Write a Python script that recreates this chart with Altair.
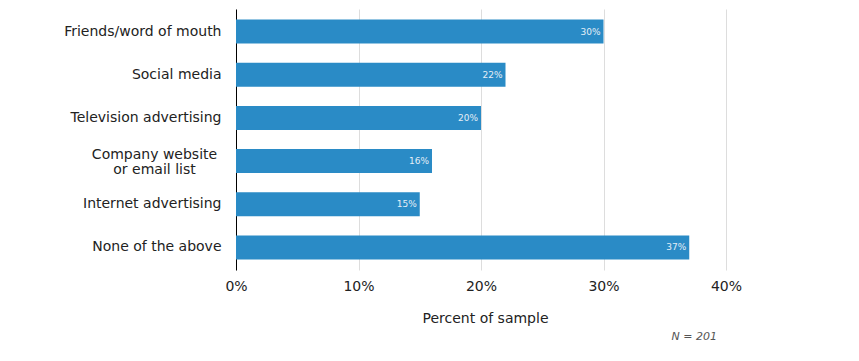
import altair as alt
import pandas as pd

categories = [
    "Friends/word of mouth",
    "Social media",
    "Television advertising",
    "Company website or email list",
    "Internet advertising",
    "None of the above",
]
values = [30, 22, 20, 16, 15, 37]
x_ticks = [0, 10, 20, 30, 40]

df = pd.DataFrame({"category": categories, "value": values})
df["label"] = df["value"].astype(str) + "%"

FONT = "DejaVu Sans"
TWO_LINE = "datum.value == 'Company website or email list'"

y_enc = alt.Y(
    "category:N",
    sort=categories,
    scale=alt.Scale(paddingInner=0.444, paddingOuter=0.243),
    axis=alt.Axis(
        title=None,
        ticks=False,
        tickSize=0,
        grid=False,
        domain=True,
        domainColor="#000000",
        domainWidth=1,
        labelFont=FONT,
        labelFontSize=14,
        labelColor="#222222",
        labelLineHeight=14.5,
        labelAlign={"condition": {"test": TWO_LINE, "value": "center"}, "value": "right"},
        labelPadding={"condition": {"test": TWO_LINE, "value": 82}, "value": 15},
        labelOffset={"condition": {"test": TWO_LINE, "value": -6}, "value": 0},
        labelExpr=TWO_LINE + " ? ['Company website ', 'or email list'] : datum.label",
    ),
)

x_enc = alt.X(
    "value:Q",
    scale=alt.Scale(domain=[0, 40], nice=False),
    axis=alt.Axis(
        title="Percent of sample",
        values=x_ticks,
        labelExpr="datum.value + '%'",
        labelFlush=False,
        ticks=False,
        domain=False,
        grid=True,
        gridColor="#dddddd",
        labelFont=FONT,
        labelFontSize=14,
        labelColor="#222222",
        labelPadding=9,
        titleFont=FONT,
        titleFontSize=14,
        titleFontWeight="normal",
        titleColor="#222222",
        titlePadding=18,
        titleX=249,
    ),
)

bars = alt.Chart(df).mark_bar(color="#2a8bc6").encode(x=x_enc, y=y_enc)

texts = alt.Chart(df).mark_text(
    align="right", baseline="middle", dx=-3, font=FONT, fontSize=9, color="#e4eef6"
).encode(x="value:Q", y=alt.Y("category:N", sort=categories), text="label:N")

chart = (
    alt.layer(bars, texts)
    .properties(
        width=490,
        height=261,
        padding={"left": 55, "top": 1, "right": 5, "bottom": 5},
        title=alt.TitleParams(
            "N = 201",
            orient="bottom",
            anchor="end",
            frame="group",
            font=FONT,
            fontSize=11,
            fontStyle="italic",
            fontWeight="normal",
            color="#555555",
            dx=-9,
            offset=6,
        ),
    )
    .configure_view(stroke=None)
)

chart.save("out.html", embed_options={"renderer": "svg", "actions": False})
